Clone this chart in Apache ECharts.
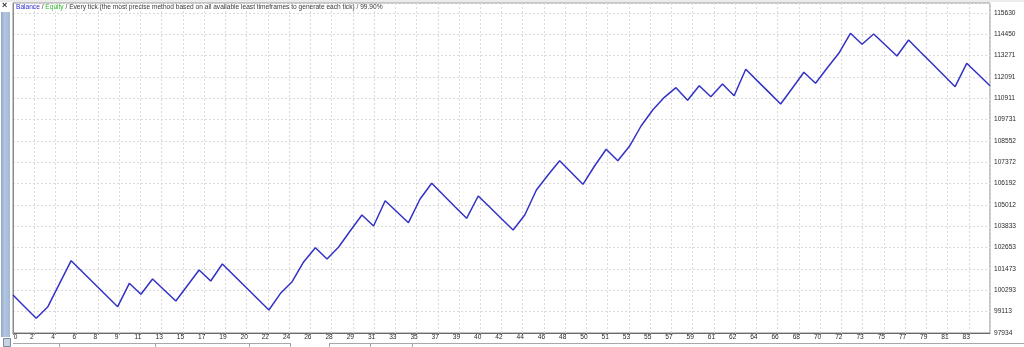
<!DOCTYPE html>
<html>
<head>
<meta charset="utf-8">
<script src="https://cdn.jsdelivr.net/npm/echarts@6/dist/echarts.min.js"></script>
<style>
html,body{margin:0;padding:0;background:#ffffff;}
#chart{width:1024px;height:347px;}
</style>
</head>
<body>
<div id="chart"></div>
<script>
// Balance after each trade (trade number 0..84)
const balance = [
  100035, 99388, 98747, 99388, 100660, 101932, 101296, 100660, 100024, 99388,
  100682, 100074, 100920, 100312, 99704, 100561, 101418, 100810, 101750, 101114,
  100478, 99842, 99206, 100129, 100771, 101877, 102651, 102026, 102690, 103591,
  104459, 103851, 105250, 104642, 104034, 105344, 106212, 105565, 104918, 104277,
  105510, 104885, 104255, 103630, 104459, 105842, 106671, 107462, 106810, 106157,
  107169, 108093, 107462, 108258, 109381, 110266, 110968, 111499, 110802, 111610,
  111001, 111704, 111057, 112517, 111875, 111239, 110598, 111471, 112351, 111742,
  112589, 113401, 114507, 113899, 114469, 113860, 113252, 114137, 113490, 112848,
  112201, 111554, 112848, 112229, 111610
];
// Tick labels as printed on the axes
const xTickLabels = ['0','2','4','6','8','9','11','13','15','17','19','20','22','24','26','28',
  '29','31','33','35','37','39','40','42','44','46','48','50','51','53','55','57','59','61',
  '62','64','66','68','70','72','73','75','77','79','81','83'];
const yTickLabels = ['97934','99113','100293','101473','102653','103833','105012','106192',
  '107372','108552','109731','110911','112091','113271','114450','115630'];
const legendParts = ['Balance', 'Equity', 'Every tick (the most precise method based on all available least timeframes to generate each tick)', '99.90%'];

const xMax = balance.length - 1;       // 84
const xSteps = 46;                     // label slots across the plot
const xInterval = xMax / xSteps;
const yMin = 97934;
const yInterval = (115630 - 97934) / 15;
const yMax = 116183;

const chart = echarts.init(document.getElementById('chart'), null, {renderer: 'canvas'});
const FONT = 'Liberation Sans';
const FS = 6.6;

const option = {
  animation: false,
  backgroundColor: '#ffffff',
  title: {
    left: 16, top: 4, padding: 0,
    text: '{b|' + legendParts[0] + '}{t| / }{e|' + legendParts[1] + '}{t| / ' + legendParts[2] + ' / ' + legendParts[3] + '}',
    textStyle: {
      fontFamily: FONT, fontSize: FS, fontWeight: 'normal',
      rich: {
        b: {color: '#2b2bd0', fontFamily: FONT, fontSize: FS},
        e: {color: '#2eb82e', fontFamily: FONT, fontSize: FS},
        t: {color: '#3a3a3a', fontFamily: FONT, fontSize: FS}
      }
    }
  },
  grid: {left: 13, right: 34, top: 3, bottom: 14, show: true, borderColor: '#8a8a8a', borderWidth: 1, backgroundColor: 'transparent'},
  xAxis: {
    type: 'value', min: 0, max: xMax, interval: xInterval,
    axisLine: {show: true, lineStyle: {color: '#6a6a6a', width: 1}},
    axisTick: {show: true, length: 2, lineStyle: {color: '#8a8a8a'}},
    splitLine: {show: true, lineStyle: {color: '#dadada', type: [2, 2], width: 1}},
    axisLabel: {
      margin: 1,
      showMaxLabel: false,
      formatter: function (v) {
        const i = Math.round(v / xInterval);
        if (Math.abs(v / xInterval - i) > 0.01 || i >= xTickLabels.length) return '';
        return i === 0 ? '{l|' + xTickLabels[i] + '}' : '{r|' + xTickLabels[i] + '}';
      },
      rich: {
        l: {padding: [0, 0, 0, 5], fontFamily: FONT, fontSize: FS, color: '#2a2a2a'},
        r: {padding: [0, 5, 0, 0], fontFamily: FONT, fontSize: FS, color: '#2a2a2a'}
      }
    }
  },
  yAxis: {
    type: 'value', position: 'right', min: yMin, max: yMax, interval: yInterval,
    axisLine: {show: true, lineStyle: {color: '#8a8a8a', width: 1}},
    axisTick: {show: false},
    splitLine: {show: true, lineStyle: {color: '#dadada', type: [2, 2], width: 1}},
    axisLabel: {
      margin: 4, showMaxLabel: false,
      fontFamily: FONT, fontSize: FS, color: '#2a2a2a',
      formatter: function (v) {
        const r = (v - yMin) / yInterval;
        const i = Math.round(r);
        if (Math.abs(r - i) > 0.01 || i >= yTickLabels.length) return '';
        return yTickLabels[i];
      }
    }
  },
  series: [{
    type: 'line',
    data: balance.map((v, i) => [i, v]),
    showSymbol: false,
    lineStyle: {color: '#3232c6', width: 1.5},
    itemStyle: {color: '#3232c6'},
    z: 5
  }],
  graphic: [
    {type: 'rect', left: 0, top: 0, shape: {width: 1024, height: 2}, style: {fill: '#ececec'}, silent: true},
    {type: 'rect', left: 1, top: 12, shape: {width: 9, height: 325},
      style: {fill: {type: 'linear', x: 0, y: 0, x2: 1, y2: 0, colorStops: [
        {offset: 0, color: '#8fa9c9'}, {offset: 0.4, color: '#b3c6de'}, {offset: 1, color: '#a3b9d6'}]}}, silent: true},
    {type: 'text', left: 2, top: 1, style: {text: '×', font: 'bold 9px ' + FONT, fill: '#333333'}, silent: true},
    {type: 'rect', left: 3, top: 338, shape: {width: 7, height: 8}, style: {fill: '#c9d4e2', stroke: '#7a8aa0', lineWidth: 1}, silent: true},
    {type: 'line', shape: {x1: 13, y1: 343.5, x2: 291, y2: 343.5}, style: {stroke: '#a8a8a8', lineWidth: 1}, silent: true},
    {type: 'line', shape: {x1: 329, y1: 343.5, x2: 1024, y2: 343.5}, style: {stroke: '#a8a8a8', lineWidth: 1}, silent: true},
    {type: 'line', shape: {x1: 59.5, y1: 344, x2: 59.5, y2: 347}, style: {stroke: '#a8a8a8', lineWidth: 1}, silent: true},
    {type: 'line', shape: {x1: 155.5, y1: 344, x2: 155.5, y2: 347}, style: {stroke: '#a8a8a8', lineWidth: 1}, silent: true},
    {type: 'line', shape: {x1: 249.5, y1: 344, x2: 249.5, y2: 347}, style: {stroke: '#a8a8a8', lineWidth: 1}, silent: true},
    {type: 'line', shape: {x1: 290.5, y1: 344, x2: 290.5, y2: 347}, style: {stroke: '#a8a8a8', lineWidth: 1}, silent: true},
    {type: 'line', shape: {x1: 329.5, y1: 344, x2: 329.5, y2: 347}, style: {stroke: '#a8a8a8', lineWidth: 1}, silent: true},
    {type: 'line', shape: {x1: 370.5, y1: 344, x2: 370.5, y2: 347}, style: {stroke: '#a8a8a8', lineWidth: 1}, silent: true},
    {type: 'line', shape: {x1: 412.5, y1: 344, x2: 412.5, y2: 347}, style: {stroke: '#a8a8a8', lineWidth: 1}, silent: true}
  ]
};
chart.setOption(option);
</script>
</body>
</html>
